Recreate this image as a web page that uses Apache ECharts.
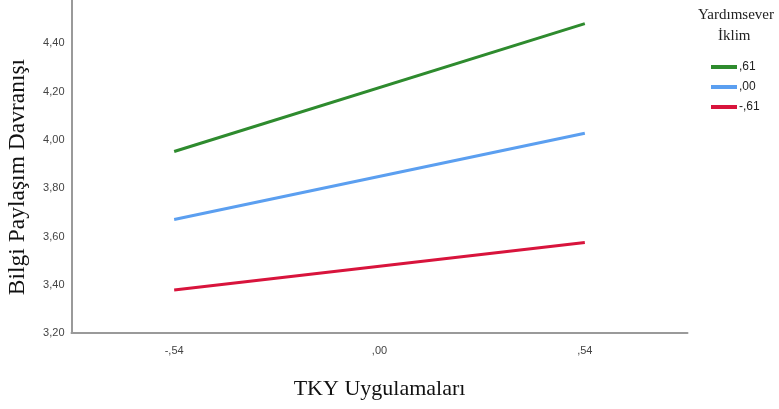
<!DOCTYPE html>
<html>
<head>
<meta charset="utf-8">
<script src="https://cdn.jsdelivr.net/npm/echarts@6/dist/echarts.min.js"></script>
<style>html,body{margin:0;padding:0;background:#fff}#c{width:779px;height:409px}</style>
</head>
<body>
<div id="c"></div>
<script>
const categories = ['-,54', ',00', ',54'];
const seriesNames = [',61', ',00', '-,61'];
const green = [3.952, null, 4.482];
const blue = [3.670, null, 4.028];
const red = [3.378, null, 3.575];
const colors = ['#2e8b2e', '#5b9ff0', '#d8143c'];

const chart = echarts.init(document.getElementById('c'));
const mk = (name, data, color) => ({
  name, type: 'line', data, connectNulls: true, showSymbol: false, symbol: 'none',
  lineStyle: { color, width: 3 }, itemStyle: { color }, animation: false
});
chart.setOption({
  animation: false,
  grid: { left: 71.5, right: 91.5, top: 0, bottom: 76, containLabel: false, outerBoundsMode: 'none' },
  xAxis: {
    type: 'category', data: categories, boundaryGap: true,
    axisLine: { lineStyle: { color: '#9a9a9a', width: 2 } },
    axisTick: { show: false },
    axisLabel: { color: '#444', fontFamily: 'Liberation Sans', fontSize: 11, margin: 12 },
    name: 'TKY Uygulamaları', nameLocation: 'middle', nameGap: 45,
    nameTextStyle: { fontFamily: 'Liberation Serif', fontSize: 22, color: '#111' }
  },
  yAxis: {
    type: 'value', min: 3.2, max: 4.58, interval: 0.2,
    axisLine: { show: true, lineStyle: { color: '#9a9a9a', width: 2 } },
    axisTick: { show: false }, splitLine: { show: false },
    axisLabel: { color: '#444', fontFamily: 'Liberation Sans', fontSize: 11, margin: 7, showMaxLabel: false,
      formatter: v => v.toFixed(2).replace('.', ',') }
  },
  legend: {
    orient: 'vertical', left: 711, top: 60, padding: 0, itemWidth: 26, itemHeight: 4, itemGap: 6,
    icon: 'rect', data: seriesNames,
    textStyle: { fontFamily: 'Liberation Sans', fontSize: 12, color: '#222', lineHeight: 14, padding: [0,0,0,-3] }
  },
  graphic: [
    { type: 'text', x: 18, y: 177, rotation: Math.PI / 2,
      style: { text: 'Bilgi Paylaşım Davranışı', font: '23.5px "Liberation Serif"', fill: '#111', align: 'center', verticalAlign: 'middle' } },
    { type: 'text', left: 698, top: 8, style: { text: 'Yardımsever', font: '15px "Liberation Serif"', fill: '#222' } },
    { type: 'text', left: 718, top: 29, style: { text: 'İklim', font: '15px "Liberation Serif"', fill: '#222' } }
  ],
  series: [mk(seriesNames[0], green, colors[0]), mk(seriesNames[1], blue, colors[1]), mk(seriesNames[2], red, colors[2])]
});
</script>
</body>
</html>
